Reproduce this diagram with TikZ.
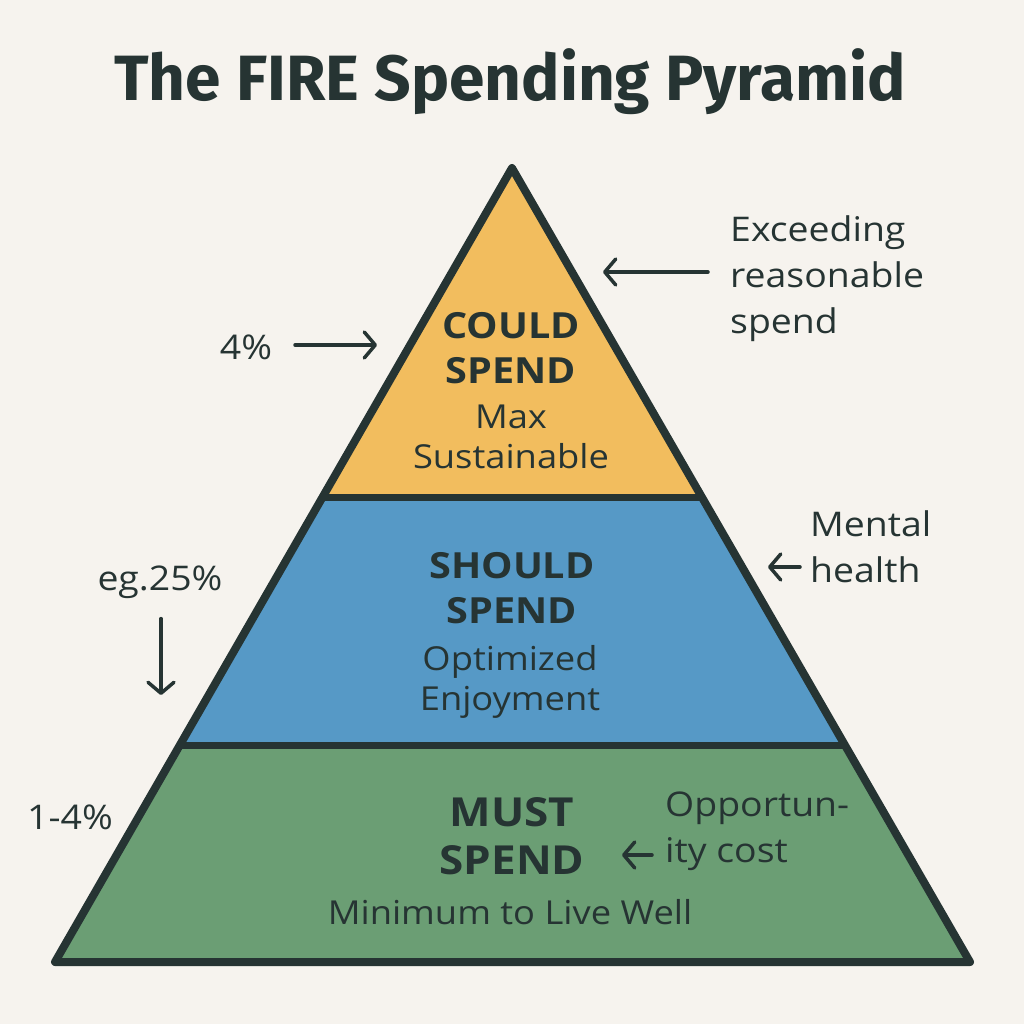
\documentclass[tikz,border=0pt]{standalone}
\usepackage{fontspec}
\setmainfont{Open Sans}[FakeStretch=1.1]
\newfontfamily\titlefont{Fira Sans}
\usetikzlibrary{arrows.meta,calc}
\definecolor{bg}{HTML}{F6F3EE}
\definecolor{ink}{HTML}{263433}
\definecolor{gold}{HTML}{F2BD5E}
\definecolor{sky}{HTML}{5699C6}
\definecolor{leaf}{HTML}{6B9E74}
\begin{document}
\begin{tikzpicture}[x=1pt,y=-1pt,
  lbl/.style={text=ink, font=\fontsize{34}{46}\selectfont, align=left, inner sep=0pt},
  tierhead/.style={text=ink, font=\fontsize{36}{45}\selectfont\bfseries, align=center, inner sep=0pt},
  tiersub/.style={text=ink, font=\fontsize{33}{40}\selectfont, align=center, inner sep=0pt},
  pointer/.style={draw=ink, line width=3.5pt, line cap=round,
    -{Straight Barb[length=11pt,width=26pt,line cap=round,line join=round]}}]
\fill[bg] (0,0) rectangle (1024,1024);
\useasboundingbox (0,0) rectangle (1024,1024);

\node[text=ink, font=\titlefont\fontsize{64}{70}\selectfont\bfseries, inner sep=0pt] (title) at (510,82) {The FIRE Spending Pyramid};

\coordinate (A) at (512,168);
\coordinate (BL) at (55,962);
\coordinate (BR) at (970,962);
\coordinate (L1) at ($(A)!0.4144!(BL)$);
\coordinate (R1) at ($(A)!0.4144!(BR)$);
\coordinate (L2) at ($(A)!0.7267!(BL)$);
\coordinate (R2) at ($(A)!0.7267!(BR)$);

\fill[gold] (A) -- (L1) -- (R1) -- cycle;
\fill[sky] (L1) -- (L2) -- (R2) -- (R1) -- cycle;
\fill[leaf] (L2) -- (BL) -- (BR) -- (R2) -- cycle;
\draw[ink, line width=7pt] (L1) -- (R1) (L2) -- (R2);
\draw[ink, line width=8pt, line join=round] (A) -- (BL) -- (BR) -- cycle;

% tier texts
\node[tierhead] (couldh) at (511,348) {COULD\\SPEND};
\node[tiersub] (coulds) at (511,437) {Max\\Sustainable};
\node[tierhead] (shouldh) at (512,588) {SHOULD\\SPEND};
\node[tiersub] (shoulds) at (510,682) {Optimized\\Enjoyment};
\node[tierhead, font=\fontsize{40}{48}\selectfont\bfseries] (musth) at (512,836) {MUST\\SPEND};
\node[tiersub] (musts) at (510,912) {Minimum to Live Well};

% side labels
\node[lbl] (four) at (246,347) {4\%};
\coordinate (fourS) at (295,345);
\coordinate (fourE) at (377,345);
\draw[pointer] (fourS) -- (fourE);

\node[lbl, anchor=west] (exceed) at (730,279) {Exceeding\\reasonable\\spend};
\coordinate (exceedE) at (603,272);
\draw[pointer] ($(exceed.west)+(-22,-7)$) coordinate (exceedS) -- (exceedE);

\node[lbl, anchor=west] (mental) at (810,547) {Mental\\health};
\coordinate (mentalE) at (768,567);
\draw[pointer] ($(mental.west)+(-10,20)$) coordinate (mentalS) -- (mentalE);

\node[lbl] (eg) at (160,582) {eg.25\%};
\coordinate (egE) at (161,695);
\draw[pointer] ($(eg.south)+(1,20)$) coordinate (egS) -- (egE);

\node[lbl] (onefour) at (70,817) {1-4\%};

\node[lbl, anchor=west] (opp) at (665,831) {Opportun-\\ity cost};
\coordinate (oppE) at (622,855);
\draw[pointer] ($(opp.west)+(-13,24)$) coordinate (oppS) -- (oppE);
\end{tikzpicture}
\end{document}
